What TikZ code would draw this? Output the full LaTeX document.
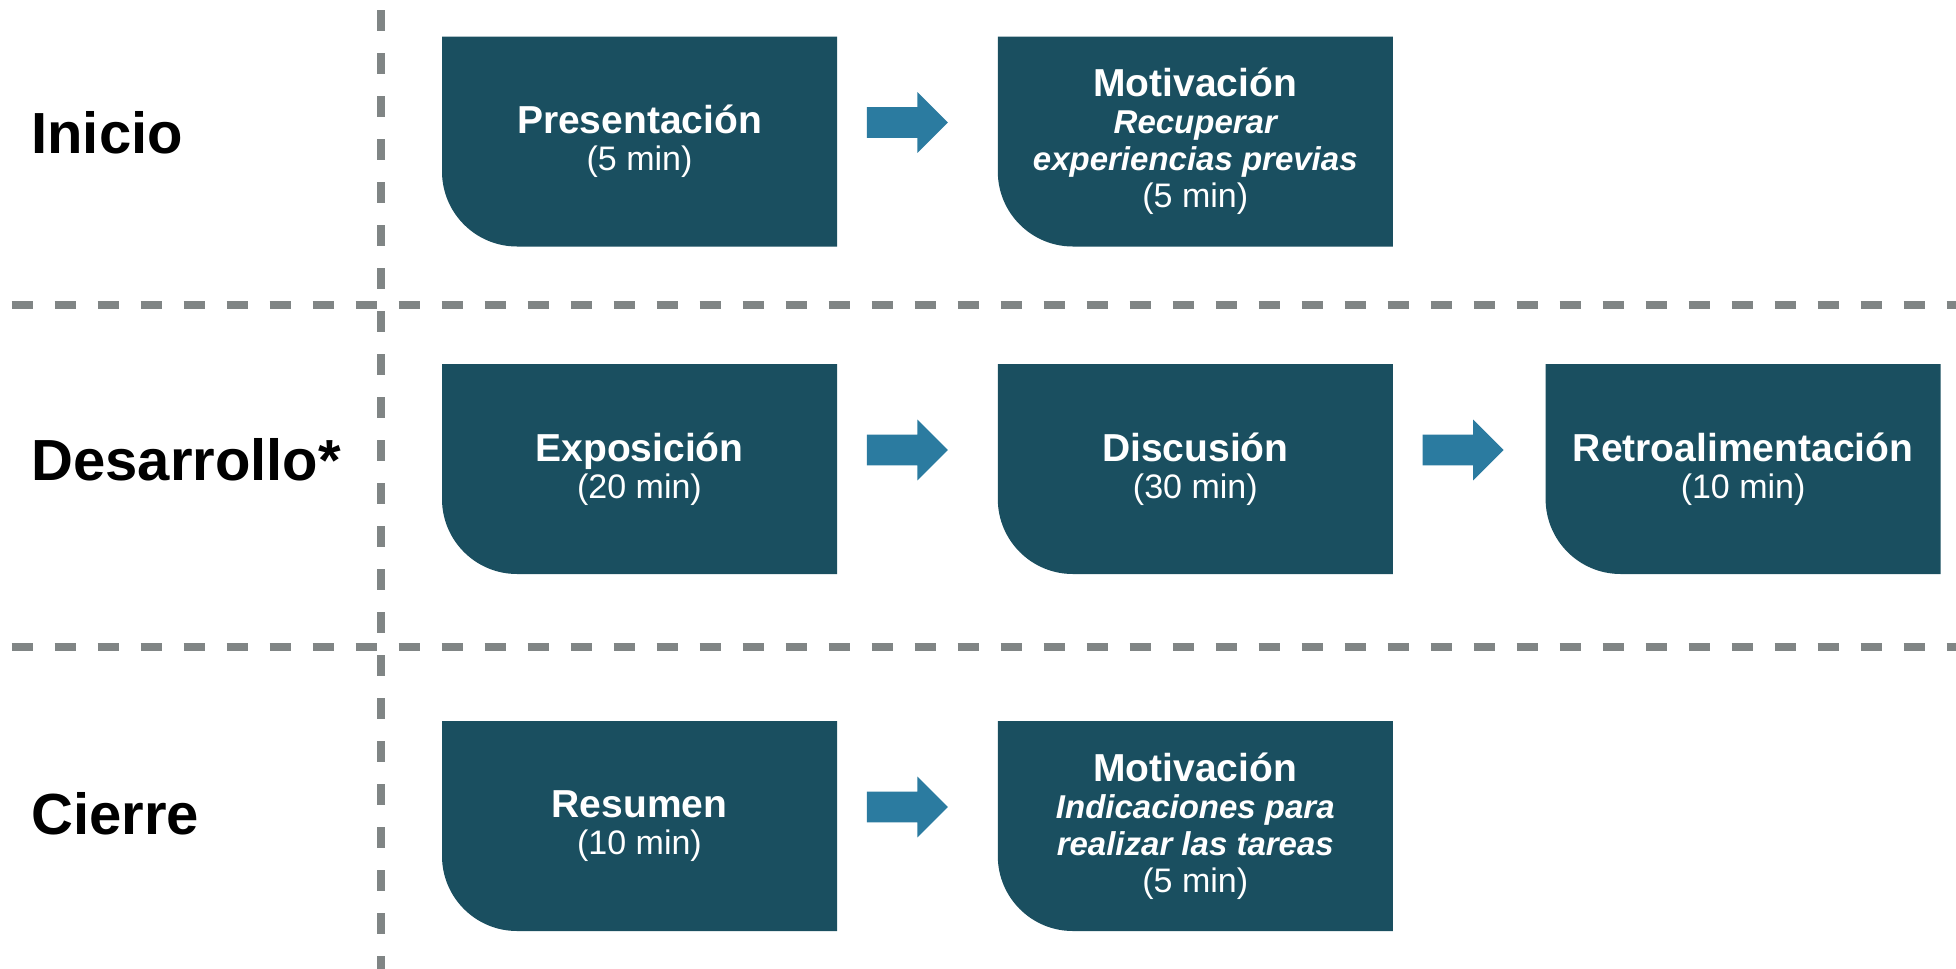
\documentclass[tikz,border=0pt]{standalone}
\usepackage{fontspec}
\setmainfont{Liberation Sans}
\usetikzlibrary{positioning,shapes.arrows}

\definecolor{azuloscuro}{HTML}{1A4F60}
\definecolor{azulflecha}{HTML}{2B7BA0}
\definecolor{grisguia}{HTML}{808585}

\newcommand{\fase}{\fontsize{29pt}{35pt}\selectfont\bfseries}
\newcommand{\titulo}{\fontsize{19.5pt}{18.5pt}\selectfont\bfseries}
\newcommand{\detalle}[1]{{\fontsize{16.5pt}{18.5pt}\selectfont\itshape #1}}
\newcommand{\duracion}[1]{{\fontsize{17pt}{18.5pt}\selectfont\mdseries #1}}

\tikzset{
  guia/.style={grisguia, line width=4pt, dash pattern=on 10.5pt off 11pt},
  fasetxt/.style={anchor=west, inner sep=0pt, font=\fase},
  etapa/.style={minimum width=197.5pt, minimum height=105pt, inner sep=0pt,
    fill=white, text=white, align=center, font=\titulo,
    path picture={
      \fill[azuloscuro] (path picture bounding box.north west)
        -- (path picture bounding box.north east)
        -- (path picture bounding box.south east)
        -- ([xshift=37.5pt]path picture bounding box.south west)
        arc[start angle=270, end angle=180, radius=37.5pt] -- cycle;}},
  flecha/.style={single arrow, fill=azulflecha, anchor=tail, inner sep=0pt,
    text height=15pt, text depth=0pt, minimum height=40.5pt,
    single arrow head extend=7.5pt, single arrow tip angle=90,
    single arrow head indent=0pt}
}

\begin{document}
\begin{tikzpicture}[x=0.5pt,y=0.5pt]
  \useasboundingbox (0,0) rectangle (1956,-969);
  % guides
  \draw[guia] (381,-10) -- (381,-969);
  \draw[guia] (11.5,-305) -- (1956,-305);
  \draw[guia] (11.5,-647) -- (1956,-647);
  % phases
  \node[fasetxt] (inicio) at (31,-133) {Inicio};
  \node[fasetxt] (desarrollo) at (31,-460) {Desarrollo*};
  \node[fasetxt] (cierre) at (31,-814) {Cierre};
  % inicio
  \node[etapa] (pres) at (639.5,-141.5) {Presentación\\\duracion{(5 min)}};
  \node[etapa, right=80pt of pres] (moti) {Motivación\\\detalle{Recuperar}\\\detalle{experiencias previas}\\\duracion{(5 min)}};
  \node[flecha] (f1) at ([shift={(14.5pt,9.5pt)}]pres.east) {};
  % desarrollo
  \node[etapa] (expo) at (639.5,-469) {Exposición\\\duracion{(20 min)}};
  \node[etapa, right=80pt of expo] (disc) {Discusión\\\duracion{(30 min)}};
  \node[etapa, right=76pt of disc] (retro) {Retroalimentación\\\duracion{(10 min)}};
  \node[flecha] (f2) at ([shift={(14.5pt,9.5pt)}]expo.east) {};
  \node[flecha] (f3) at ([shift={(14.5pt,9.5pt)}]disc.east) {};
  % cierre
  \node[etapa] (resu) at (639.5,-826) {Resumen\\\duracion{(10 min)}};
  \node[etapa, right=80pt of resu] (motc) {Motivación\\\detalle{Indicaciones para}\\\detalle{realizar las tareas}\\\duracion{(5 min)}};
  \node[flecha] (f4) at ([shift={(14.5pt,9.5pt)}]resu.east) {};
\end{tikzpicture}
\end{document}
